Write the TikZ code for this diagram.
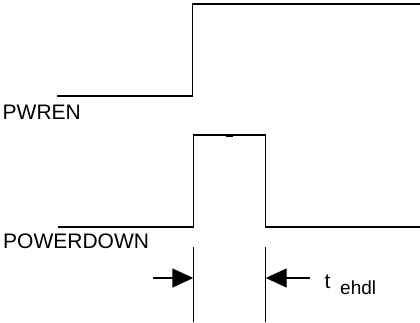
\documentclass[tikz,border=0pt]{standalone}
\usepackage{fontspec}
\setmainfont{Liberation Sans}
\usetikzlibrary{arrows.meta}
\begin{document}
\begin{tikzpicture}[x=1pt,y=-1pt,
  signal/.style={line width=1.4pt, line join=miter},
  guide/.style={line width=1.4pt},
  dimarrow/.style={line width=1.4pt, -{Triangle[length=21pt,width=19pt]}},
  lbl/.style={anchor=base west, inner sep=0pt, font=\fontsize{21}{24}\selectfont},
  sub/.style={anchor=base west, inner sep=0pt, font=\fontsize{19}{22}\selectfont}]
\useasboundingbox (0,0) rectangle (420,322);
% PWREN
\coordinate (p0) at (57,96);
\coordinate (p1) at (192.3,96);
\coordinate (p2) at (192.3,4);
\coordinate (p3) at (420,4);
\draw[signal] (p0) -- (p1) -- (p2) -- (p3);
\node[lbl] (pwren) at (2.5,119) {PWREN};
% POWERDOWN
\coordinate (q0) at (58,227);
\coordinate (q1) at (193.3,227);
\coordinate (q2) at (193.3,135);
\coordinate (q3) at (265.7,135);
\coordinate (q4) at (265.7,227);
\coordinate (q5) at (420,227);
\draw[signal] (q0) -- (q1) -- (q2) -- (q3) -- (q4) -- (q5);
\coordinate (m0) at (226,135.3);
\coordinate (m1) at (233,135.3);
\draw[line width=3pt] (m0) -- (m1);
\node[lbl] (pwd) at (3,248.3) {POWERDOWN};
% timing guides
\coordinate (g1a) at (193.3,247);
\coordinate (g1b) at (193.3,322);
\coordinate (g2a) at (265.7,247);
\coordinate (g2b) at (265.7,322);
\draw[guide] (g1a) -- (g1b);
\draw[guide] (g2a) -- (g2b);
\coordinate (a1s) at (153,278);
\coordinate (a1e) at (193.3,278);
\coordinate (a2s) at (310,278);
\coordinate (a2e) at (265.7,278);
\draw[dimarrow] (a1s) -- (a1e);
\draw[dimarrow] (a2s) -- (a2e);
\node[lbl] (t) at (324.5,288.3) {t};
\node[sub] (ehdl) at (340,294) {ehdl};
\end{tikzpicture}
\end{document}
